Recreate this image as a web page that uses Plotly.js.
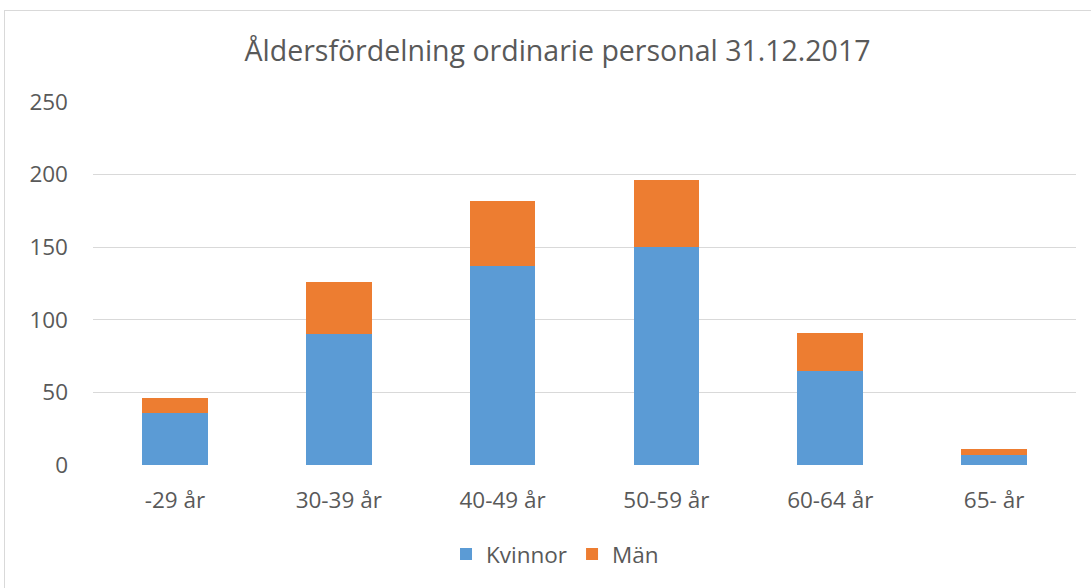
<!DOCTYPE html>
<html>
<head>
<meta charset="utf-8">
<script src="https://cdn.plot.ly/plotly-3.0.1.min.js"></script>
<style>
html,body{margin:0;padding:0;background:#fff;}
#wrap{position:relative;width:1091px;height:588px;overflow:hidden;}
#chart{position:absolute;left:0;top:0;width:1091px;height:588px;}
#frame{position:absolute;left:4px;top:10px;width:1200px;height:700px;border:1px solid #d9d9d9;pointer-events:none;}
</style>
</head>
<body>
<div id="wrap"><div id="frame"></div><div id="chart"></div></div>
<script>
const categories = ["-29 år", "30-39 år", "40-49 år", "50-59 år", "60-64 år", "65- år"];
const kvinnor = [36, 90, 137, 150, 65, 7];
const man = [10, 36, 45, 46, 26, 4];
const yTicks = [0, 50, 100, 150, 200, 250];

const fam = "Open Sans, sans-serif";
const col = "#595959";

const traces = [
  {type: "bar", name: "Kvinnor", x: categories, y: kvinnor,
   marker: {color: "#5b9bd5"}},
  {type: "bar", name: "Män", x: categories, y: man,
   marker: {color: "#ed7d31"}}
];

const layout = {
  width: 1091, height: 588,
  paper_bgcolor: "rgba(0,0,0,0)", plot_bgcolor: "rgba(0,0,0,0)",
  barmode: "stack", bargap: 0.6,
  margin: {l: 93, r: 15, t: 102, b: 122.5},
  title: {text: "Åldersfördelning ordinarie personal 31.12.2017",
          font: {family: fam, color: col, size: 28.5},
          x: 0.511, xanchor: "center", y: 1 - 51/588, yanchor: "middle"},
  xaxis: {type: "category", tickfont: {family: fam, color: col, size: 22.5},
          showgrid: false, zeroline: false, showline: false, ticks: "",
          ticklabelstandoff: 19},
  yaxis: {range: [0, 250], tickvals: yTicks, ticktext: yTicks.map(String),
          tickfont: {family: fam, color: col, size: 22.5},
          gridcolor: "#d9d9d9", gridwidth: 1, zeroline: false, showline: false,
          ticks: "", ticklabelstandoff: 24},
  showlegend: true,
  legend: {orientation: "h", x: 0.47, xanchor: "center", y: -0.246, yanchor: "middle",
           font: {family: fam, color: col, size: 22.5}, traceorder: "normal",
           itemwidth: 30}
};

Plotly.newPlot("chart", traces, layout, {displayModeBar: false, staticPlot: true});
</script>
</body>
</html>
